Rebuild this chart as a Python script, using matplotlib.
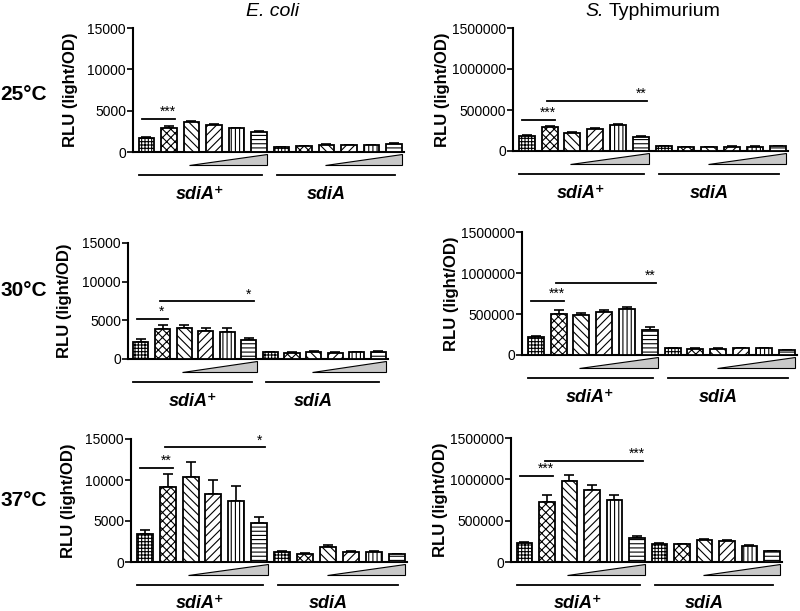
import matplotlib
matplotlib.use("Agg")
import matplotlib.pyplot as plt
from matplotlib.patches import Polygon
import numpy as np

plt.rcParams['font.family'] = ['Liberation Sans', 'DejaVu Sans']
plt.rcParams['hatch.linewidth'] = 0.8

# ---------------- data ----------------
titles = ["E. coli", "S.", "Typhimurium"]
temps = ["25°C", "30°C", "37°C"]
group_labels = ["sdiA⁺", "sdiA"]
ylabel = "RLU (light/OD)"
ecoli_ticks = [0, 5000, 10000, 15000]
styph_ticks = [0, 500000, 1000000, 1500000]

ecoli_25 = [1700, 2950, 3650, 3250, 2850, 2450, 550, 700, 900, 800, 800, 950]
ecoli_25_err = [100, 150, 100, 80, 100, 150, 40, 40, 50, 40, 40, 80]
styph_25 = [185000, 290000, 225000, 270000, 315000, 175000, 55000, 50000, 50000, 52000, 52000, 55000]
styph_25_err = [8000, 12000, 8000, 10000, 15000, 12000, 3000, 3000, 3000, 3000, 3000, 3000]

ecoli_30 = [2250, 3900, 3950, 3650, 3550, 2500, 850, 800, 950, 800, 850, 950]
ecoli_30_err = [300, 500, 500, 400, 400, 200, 50, 50, 60, 50, 60, 80]
styph_30 = [225000, 505000, 490000, 520000, 555000, 310000, 80000, 78000, 78000, 80000, 80000, 62000]
styph_30_err = [8000, 40000, 25000, 30000, 35000, 35000, 4000, 4000, 4000, 4000, 4000, 4000]

ecoli_37 = [3450, 9100, 10350, 8300, 7500, 4700, 1200, 975, 1800, 1200, 1200, 950]
ecoli_37_err = [450, 1650, 1900, 1700, 1750, 800, 100, 80, 300, 100, 120, 50]
styph_37 = [230000, 730000, 975000, 865000, 750000, 290000, 223000, 215000, 272000, 255000, 195000, 130000]
styph_37_err = [8000, 85000, 75000, 70000, 60000, 30000, 8000, 8000, 5000, 8000, 5000, 5000]

# significance: (line height, stars) for short (bar1-bar2) and long (bar2-bar6)
sig_short = [[(4050, "***"), (380000, "***")],
             [(5170, "*"), (657000, "***")],
             [(11460, "**"), (1042000, "***")]]
sig_long = [[None, (612000, "**")],
            [(7460, "*"), (880000, "**")],
            [(13980, "*"), (1224000, "***")]]

means = [[ecoli_25, styph_25], [ecoli_30, styph_30], [ecoli_37, styph_37]]
errs = [[ecoli_25_err, styph_25_err], [ecoli_30_err, styph_30_err], [ecoli_37_err, styph_37_err]]

hatches = ['+++++', 'xxxx', '\\\\\\\\', '////', '||||', '----'] * 2

# ---------------- layout (pixels: left, right, top, bottom) ----------------
W, H = 800, 611
boxes = [[(133, 404, 28, 152), (513, 788, 28, 151)],
         [(128, 388, 243, 359), (522, 797, 232, 355)],
         [(131, 407, 439, 562), (511, 782, 438, 562)]]
ylabel_dx = [-63, -70]
temp_y = [95, 291, 500]

fig = plt.figure(figsize=(W / 100, H / 100), dpi=100)

for r in range(3):
    for c in range(2):
        l, rr, t, b = boxes[r][c]
        ax = fig.add_axes([l / W, 1 - b / H, (rr - l) / W, (b - t) / H])
        hpx = b - t
        x = np.arange(12)
        m = np.array(means[r][c])
        e = np.array(errs[r][c])
        ax.errorbar(x, m, yerr=[np.zeros_like(e), e], fmt='none', ecolor='black',
                    elinewidth=1.2, capsize=3.5, capthick=1.2, zorder=2)
        ax.bar(x, m, width=0.7, color='white', edgecolor='black',
               hatch=hatches, linewidth=1.3, zorder=3)
        ymax = 15000 if c == 0 else 1500000
        ax.set_ylim(0, ymax)
        ax.set_xlim(-0.6, 11.45)
        ticks = ecoli_ticks if c == 0 else styph_ticks
        ax.set_yticks(ticks)
        ax.set_yticklabels([str(v) for v in ticks])
        ax.set_xticks([])
        for s in ['top', 'right']:
            ax.spines[s].set_visible(False)
        for s in ['left', 'bottom']:
            ax.spines[s].set_linewidth(1.5)
        ax.tick_params(axis='y', direction='out', length=4, width=1.2, labelsize=10, pad=1)
        ax.patch.set_alpha(0)

        tr = ax.get_xaxis_transform()
        # triangles
        for x0, x1 in [(1.9, 5.36), (7.95, 11.36)]:
            tri = Polygon([(x0, -12.5 / hpx), (x1, -12.5 / hpx), (x1, -1.5 / hpx)],
                          closed=True, facecolor='#c8c8c8', edgecolor='black',
                          linewidth=0.8, transform=tr, clip_on=False)
            ax.add_patch(tri)
        # group lines and labels
        for (x0, x1), lab, lx in [((-0.35, 5.15), group_labels[0], 2.4),
                                  ((5.8, 11.05), group_labels[1], 8.0)]:
            ax.plot([x0, x1], [-23 / hpx] * 2, color='black', lw=1.3,
                    transform=tr, clip_on=False)
            ax.text(lx, -42 / hpx, lab, transform=tr, ha='center', va='center',
                    fontsize=13, fontweight='bold', fontstyle='italic')
        # significance
        sv = sig_short[r][c]
        if sv:
            ax.plot([-0.2, 1.25], [sv[0], sv[0]], color='black', lw=1.3, clip_on=False)
            ax.text(0.95, sv[0], sv[1], ha='center', va='bottom', fontsize=10)
        sv = sig_long[r][c]
        if sv:
            ax.plot([0.9, 5.25], [sv[0], sv[0]], color='black', lw=1.3, clip_on=False)
            ax.text(5.0, sv[0], sv[1], ha='center', va='bottom', fontsize=10)
        # y label
        fig.text((l + ylabel_dx[c]) / W, 1 - ((t + b) / 2) / H, ylabel, rotation=90,
                 ha='center', va='center', fontsize=12, fontweight='bold')
        if r == 0:
            if c == 0:
                fig.text(273 / W, 1 - 11 / H, titles[0], ha='center', va='center',
                         fontsize=14, fontstyle='italic')
            else:
                fig.text(585 / W, 1 - 11 / H, titles[1], ha='left', va='center',
                         fontsize=14, fontstyle='italic')
                fig.text(609 / W, 1 - 11 / H, titles[2], ha='left', va='center',
                         fontsize=14)
    fig.text(24 / W, 1 - temp_y[r] / H, temps[r], ha='center', va='center',
             fontsize=15, fontweight='bold')

fig.savefig("out.png", dpi=100)
